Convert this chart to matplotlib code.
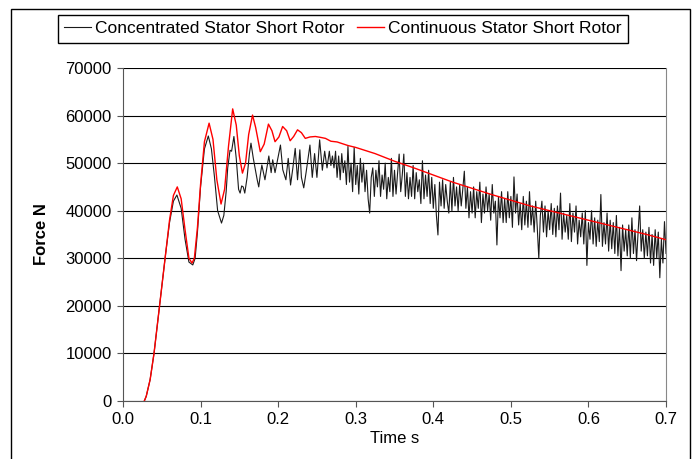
import numpy as np
import matplotlib.pyplot as plt
from matplotlib.patches import Rectangle

plt.rcParams['font.family'] = ['Liberation Sans', 'DejaVu Sans']

# Continuous stator short rotor (time s, force kN)
red_t = [0.0275, 0.030, 0.035, 0.040, 0.045, 0.050, 0.055, 0.060, 0.065, 0.070,
         0.075, 0.080, 0.085, 0.089, 0.092, 0.096, 0.100, 0.105, 0.111, 0.116,
         0.121, 0.1264, 0.131, 0.136, 0.1414, 0.146, 0.150, 0.154, 0.158, 0.162,
         0.167, 0.171, 0.177, 0.182, 0.1875, 0.192, 0.196, 0.201, 0.2058, 0.211,
         0.2155, 0.220, 0.225, 0.230, 0.235, 0.241, 0.248, 0.255, 0.261, 0.268,
         0.276, 0.290, 0.300, 0.325, 0.350, 0.375, 0.400, 0.425, 0.450, 0.475,
         0.500, 0.525, 0.550, 0.575, 0.600, 0.625, 0.650, 0.675, 0.700]
red_f = [0.0, 1.0, 4.5, 10.0, 17.0, 24.0, 31.0, 38.0, 43.2, 45.0,
         42.5, 36.0, 30.0, 29.0, 30.0, 36.5, 45.5, 54.5, 58.4, 55.0,
         46.5, 41.4, 44.5, 53.5, 61.4, 58.0, 51.5, 47.9, 50.0, 56.0,
         60.1, 57.5, 52.4, 54.0, 58.2, 56.8, 54.5, 55.5, 57.7, 56.8,
         54.7, 55.6, 57.0, 56.4, 55.2, 55.5, 55.6, 55.4, 55.2, 54.6,
         54.45, 53.7, 53.3, 52.0, 50.4, 49.0, 47.5, 46.0, 44.7, 43.4,
         42.2, 41.0, 40.0, 39.0, 38.0, 37.0, 36.0, 35.0, 33.9]

# Concentrated stator short rotor, start-up part (time s, force kN)
blk_t0 = [0.0275, 0.030, 0.035, 0.040, 0.045, 0.050, 0.055, 0.060, 0.065, 0.0695,
          0.075, 0.080, 0.085, 0.090, 0.093, 0.096, 0.100, 0.105, 0.110, 0.114,
          0.118, 0.122, 0.127, 0.130, 0.133, 0.135, 0.138, 0.140, 0.143, 0.146,
          0.149, 0.151, 0.153, 0.155, 0.157, 0.160, 0.163, 0.165, 0.168, 0.170,
          0.173, 0.175, 0.177, 0.179, 0.181, 0.183, 0.186, 0.188, 0.191, 0.193,
          0.196, 0.199, 0.203, 0.206, 0.210, 0.213, 0.216, 0.219, 0.222, 0.225,
          0.228, 0.230, 0.233, 0.236, 0.241, 0.244, 0.247, 0.250, 0.2535, 0.257,
          0.260, 0.263, 0.266, 0.268, 0.270]
blk_f0 = [0.0, 1.0, 4.5, 10.0, 17.0, 24.0, 31.0, 37.5, 42.0, 43.3,
          40.5, 34.0, 29.2, 28.6, 30.0, 35.5, 45.0, 53.0, 55.7, 53.0,
          47.0, 40.0, 37.4, 39.0, 44.0, 49.0, 52.7, 52.5, 55.6, 51.0,
          44.5, 43.7, 45.2, 45.0, 43.7, 47.0, 52.0, 54.2, 51.0, 49.2,
          46.5, 45.0, 47.5, 49.6, 48.0, 46.5, 49.5, 51.5, 48.0, 50.7,
          48.0, 50.5, 53.8, 48.6, 46.5, 51.0, 45.4, 49.0, 53.1, 46.5,
          52.8, 47.0, 44.8, 48.0, 53.8, 47.0, 52.0, 47.0, 54.9, 48.5,
          52.5, 49.0, 52.5, 49.5, 51.5]

# Concentrated stator short rotor, noisy part, one value every 2 ms from 0.272 s (kN)
blk_f1 = [
    49.0, 52.5, 47.0, 51.5, 46.5, 52.0, 48.0, 50.5, 45.5, 53.5,
    46.0, 50.0, 44.0, 53.3, 45.5, 49.5, 43.5, 51.0, 46.0, 50.0,
    44.0, 48.5, 42.5, 39.5, 47.0, 49.0, 43.0, 48.5, 45.0, 50.5,
    43.0, 47.5, 44.5, 50.0, 42.5, 47.0, 44.0, 51.0, 43.0, 48.5,
    43.5, 48.0, 51.9, 44.0, 47.5, 51.9, 43.0, 48.0, 42.5, 47.0,
    43.0, 49.5, 42.5, 48.0, 44.0, 46.5, 41.5, 50.5, 42.5, 47.5,
    43.0, 48.5, 41.5, 47.0, 40.5, 45.5, 39.0, 34.9, 46.0, 41.0,
    46.5, 40.5, 45.5, 42.0, 39.5, 46.0, 40.0, 47.0, 41.0, 45.0,
    40.0, 45.5, 41.0, 44.5, 48.3, 40.5, 45.0, 38.5, 44.0, 39.5,
    45.0, 38.5, 44.0, 40.5, 46.0, 37.5, 43.5, 39.5, 45.0, 40.0,
    43.5, 38.0, 45.5, 39.5, 42.0, 32.8, 43.0, 38.5, 44.0, 37.5,
    42.5, 37.5, 44.0, 38.5, 43.0, 36.5, 47.1, 39.5, 43.5, 37.0,
    41.5, 36.0, 43.0, 37.0, 42.0, 36.5, 44.0, 37.0, 41.0, 35.5,
    42.0, 36.5, 30.0, 39.0, 42.0, 35.5, 41.0, 34.5, 40.0, 36.0,
    41.5, 35.0, 40.5, 34.5, 41.0, 36.0, 43.7, 34.0, 39.5, 35.5,
    39.0, 34.0, 41.5, 33.5, 39.5, 35.5, 41.0, 33.0, 38.0, 34.5,
    39.5, 33.0, 40.0, 28.5, 37.5, 34.0, 40.0, 33.0, 38.5, 32.5,
    38.0, 33.5, 43.4, 32.5, 37.5, 33.0, 39.5, 31.5, 38.0, 32.0,
    37.5, 31.0, 39.0, 30.5, 36.5, 27.4, 37.0, 31.5, 36.0, 30.5,
    37.0, 30.0, 38.5, 31.0, 36.0, 29.5, 35.5, 41.0, 31.5, 36.0,
    30.0, 35.5, 30.5, 36.5, 29.0, 35.0, 28.5, 36.0, 30.0, 35.5,
    25.9, 34.0, 29.0, 37.7, 31.0]

blk_t1 = 0.272 + 0.002 * np.arange(len(blk_f1))
blk_t = np.concatenate([blk_t0, blk_t1])
blk_f = np.concatenate([blk_f0, blk_f1]) * 1000
red_f = np.array(red_f) * 1000

fig = plt.figure(figsize=(6.94, 4.59), dpi=100)
ax = fig.add_axes([0.1772, 0.1264, 0.7825, 0.7255])

ax.plot(blk_t, blk_f, color='#1a1a1a', lw=0.8, label='Concentrated Stator Short Rotor')
ax.plot(red_t, red_f, color='#ff0000', lw=1.0, label='Continuous Stator Short Rotor')

ax.set_xlim(0, 0.7)
ax.set_ylim(0, 70000)
ax.set_xticks(np.arange(0, 0.71, 0.1))
ax.set_xticklabels([f'{v:.1f}' for v in np.arange(0, 0.71, 0.1)])
ax.set_yticks(np.arange(0, 70001, 10000))
ax.yaxis.grid(True, color='black', lw=0.8)
ax.set_axisbelow(True)
ax.spines['top'].set_visible(False)
ax.spines['right'].set_color('#888888')
ax.spines['left'].set_color('#555555')
ax.spines['bottom'].set_color('#555555')
ax.tick_params(direction='out', length=4, labelsize=12, color='#555555', pad=4)

ax.set_xlabel('Time s', fontsize=12, labelpad=3)
ax.set_ylabel('Force N', fontsize=12, fontweight='bold', labelpad=12)

fig.legend(loc='center', bbox_to_anchor=(0.494, 0.937), ncol=2, fontsize=12.5,
           frameon=True, fancybox=False, edgecolor='black', framealpha=1,
           handlelength=1.55, handletextpad=0.25, columnspacing=0.7,
           borderpad=0.35, borderaxespad=0)

fig.patches.append(Rectangle((11 / 694, -0.05), 679 / 694, 1.05 - 9 / 459,
                             transform=fig.transFigure, fill=False,
                             edgecolor='black', lw=1))

fig.savefig('out.png', dpi=100)
